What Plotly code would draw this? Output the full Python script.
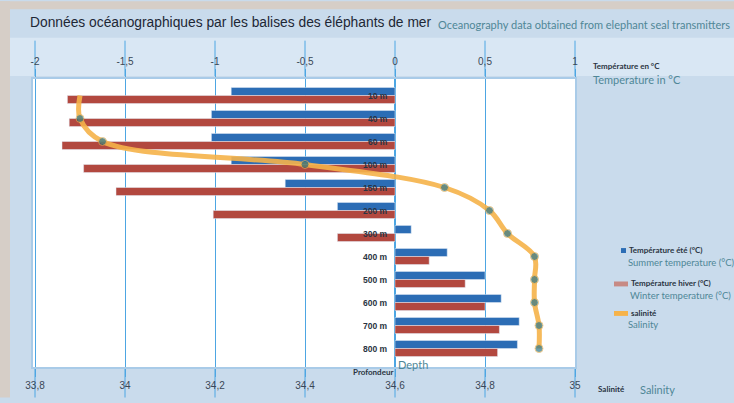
import plotly.graph_objects as go

# ---------------- data ----------------
depths = ["10 m", "40 m", "60 m", "100 m", "150 m", "200 m",
          "300 m", "400 m", "500 m", "600 m", "700 m", "800 m"]
summer_temp = [-0.91, -1.02, -1.02, -0.91, -0.61, -0.32, 0.09, 0.29, 0.50, 0.59, 0.69, 0.68]
winter_temp = [-1.82, -1.81, -1.85, -1.73, -1.55, -1.01, -0.32, 0.19, 0.39, 0.50, 0.58, 0.57]
salinity = [33.90, 33.90, 33.95, 34.40, 34.71, 34.81, 34.85, 34.91, 34.91, 34.91, 34.92, 34.92]

temp_ticks = [-2, -1.5, -1, -0.5, 0, 0.5, 1]
temp_ticktext = ["-2", "-1,5", "-1", "-0,5", "0", "0,5", "1"]
sal_ticks = [33.8, 34, 34.2, 34.4, 34.6, 34.8, 35]
sal_ticktext = ["33,8", "34", "34,2", "34,4", "34,6", "34,8", "35"]

# ---------------- layout helpers ----------------
W, H = 734, 403
L, R, T, B = 32, 576, 78, 373


def fx(px):
    return (px - L) / (R - L)


def fy(py):
    return (B - py) / (B - T)


temp_range = [(L - 395) / 180, (R - 395) / 180]
sal_range = [34.6 + 0.4 * temp_range[0], 34.6 + 0.4 * temp_range[1]]

BLUE = "#2c6db5"
RED = "#b2483f"
ORANGE = "#f6b34a"
TEAL = "#4f8797"
DARK = "#2a3442"
GRID = "#4da6e3"

fig = go.Figure()
fig.add_trace(go.Bar(y=depths, x=summer_temp, orientation="h", marker_color=BLUE,
                     name="Summer temperature (°C)", xaxis="x", yaxis="y"))
fig.add_trace(go.Bar(y=depths, x=winter_temp, orientation="h", marker_color=RED,
                     name="Winter temperature (°C)", xaxis="x", yaxis="y"))
fig.add_trace(go.Scatter(y=depths, x=salinity, xaxis="x2", yaxis="y", mode="lines+markers",
                         line=dict(color=ORANGE, width=5, shape="spline"), opacity=0.9,
                         marker=dict(color="#17697e", size=[0] + [8] * (len(salinity) - 1)),
                         name="Salinity"))

shapes = []
# beige frame
shapes.append(dict(type="rect", xref="paper", yref="paper", x0=fx(0), x1=fx(10), y0=fy(H), y1=fy(0),
                   fillcolor="#d6cec7", line_width=0, layer="below"))
shapes.append(dict(type="rect", xref="paper", yref="paper", x0=fx(0), x1=fx(W), y0=fy(8), y1=fy(0),
                   fillcolor="#d6cec7", line_width=0, layer="below"))
# lighter band behind top axis
shapes.append(dict(type="rect", xref="paper", yref="paper", x0=fx(10), x1=fx(W), y0=fy(76), y1=fy(37),
                   fillcolor="#d9e7f4", line_width=0, layer="below"))
# tick lines continuing through the label areas
for t in temp_ticks:
    xp = fx(395 + 180 * t)
    shapes.append(dict(type="line", xref="paper", yref="paper", x0=xp, x1=xp, y0=fy(40), y1=fy(76),
                       line=dict(color=GRID, width=1), layer="below"))
    shapes.append(dict(type="line", xref="paper", yref="paper", x0=xp, x1=xp, y0=fy(374), y1=fy(H),
                       line=dict(color=GRID, width=1), layer="below"))
# plot border
shapes.append(dict(type="rect", xref="paper", yref="paper", x0=0, x1=1, y0=0, y1=1,
                   line=dict(color="#a9cbe8", width=2), layer="above"))
# legend swatches
shapes.append(dict(type="rect", xref="paper", yref="paper", x0=fx(621), x1=fx(626), y0=fy(256), y1=fy(251),
                   fillcolor=BLUE, line_width=0))
shapes.append(dict(type="rect", xref="paper", yref="paper", x0=fx(614), x1=fx(628), y0=fy(290), y1=fy(285),
                   fillcolor="#c78a84", line_width=0))
shapes.append(dict(type="rect", xref="paper", yref="paper", x0=fx(614), x1=fx(628), y0=fy(320), y1=fy(315),
                   fillcolor=ORANGE, line_width=0))

ann = []


def text(px, py, s, size, color, anchor="left", family="Lato, sans-serif"):
    ann.append(dict(xref="paper", yref="paper", x=fx(px), y=fy(py), text=s, showarrow=False,
                    xanchor=anchor, yanchor="middle", font=dict(size=size, color=color, family=family)))


text(28, 22, "Données océanographiques par les balises des éléphants de mer", 13.8, "#1d2735",
     family="Liberation Sans, Arial, sans-serif")
text(436, 24, "Oceanography data obtained from elephant seal transmitters", 11, TEAL)
text(591, 66, "<b>Température en °C</b>", 8, DARK)
text(591, 80, "Temperature in °C", 11, TEAL)
text(627, 253, "<b>Température été (°C)</b>", 8, DARK)
text(626, 266, "Summer temperature (°C)", 9.5, TEAL)
text(629, 287, "<b>Température hiver (°C)</b>", 8, DARK)
text(628, 299, "Winter temperature (°C)", 9.5, TEAL)
text(629, 317, "<b>salinité</b>", 8, DARK)
text(626, 329, "Salinity", 9.5, TEAL)
text(395, 377, "<b>Profondeur</b>", 8, DARK, anchor="right")
text(396, 369, "Depth", 11, TEAL)
text(596, 394, "<b>Salinité</b>", 8, DARK)
text(638, 395, "Salinity", 11, TEAL)

# depth labels next to the zero line
for d in depths:
    ann.append(dict(xref="x", yref="y", x=-0.03, y=d, text="<b>" + d + "</b>", showarrow=False,
                    xanchor="right", yanchor="middle",
                    font=dict(size=8.5, color=DARK, family="Liberation Sans, Arial, sans-serif")))

fig.update_layout(
    width=W, height=H,
    margin=dict(l=L, r=W - R, t=T, b=H - B, pad=0),
    paper_bgcolor="#c9dbec", plot_bgcolor="#ffffff",
    barmode="group", bargap=0.3, bargroupgap=0.0,
    showlegend=False,
    xaxis=dict(side="top", range=temp_range, tickvals=temp_ticks, ticktext=temp_ticktext,
               showgrid=True, gridcolor=GRID, gridwidth=1, zeroline=True, zerolinecolor=GRID,
               zerolinewidth=1.5, ticks="outside", ticklen=8, tickcolor=GRID,
               tickfont=dict(size=10, color="#3a4756", family="Liberation Sans, Arial, sans-serif"),
               fixedrange=True),
    xaxis2=dict(overlaying="x", side="bottom", range=sal_range, tickvals=sal_ticks,
                ticktext=sal_ticktext, showgrid=False, zeroline=False, ticks="outside", ticklen=8,
                tickcolor=GRID,
                tickfont=dict(size=10, color="#3a4756", family="Liberation Sans, Arial, sans-serif"),
                fixedrange=True),
    yaxis=dict(autorange="reversed", showticklabels=False, showgrid=False, zeroline=False,
               ticks="", fixedrange=True),
    shapes=shapes, annotations=ann,
)

fig.write_html("out.html", config={"displayModeBar": False},
               post_script="document.body.style.margin='0';")
